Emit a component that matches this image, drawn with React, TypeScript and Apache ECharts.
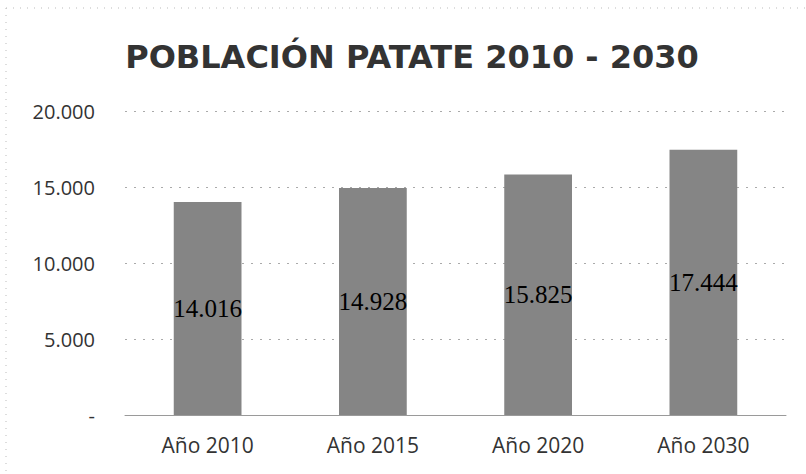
import React, { useEffect, useRef } from "react";
import * as echarts from "echarts";

const categories = ["Año 2010", "Año 2015", "Año 2020", "Año 2030"];
const population = [14016, 14928, 15825, 17444];
const titleText = "POBLACIÓN PATATE 2010 - 2030";

const fmt = (v: number) => (v === 0 ? "-" : String(v).replace(/\B(?=(\d{3})+(?!\d))/g, "."));

export default function App() {
  const ref = useRef<HTMLDivElement>(null);
  useEffect(() => {
    if (!ref.current) return;
    const chart = echarts.init(ref.current, null, { renderer: "svg" });
    chart.setOption({
      animation: false,
      backgroundColor: "#ffffff",
      title: {
        text: titleText,
        left: 407,
        textAlign: "center",
        top: 36,
        textStyle: { fontFamily: "DejaVu Sans", fontWeight: "bold", fontSize: 32, color: "#333333" },
      },
      graphic: [
        { type: "line", shape: { x1: 6, y1: 8, x2: 806, y2: 8 }, style: { stroke: "#bbbbbb", lineWidth: 1, lineDash: [1, 6] } },
        { type: "line", shape: { x1: 6, y1: 8, x2: 6, y2: 474 }, style: { stroke: "#bbbbbb", lineWidth: 1, lineDash: [1, 6] } },
      ],
      grid: { left: 125, right: 20, top: 111, bottom: 59 },
      xAxis: {
        type: "category",
        data: categories,
        axisLine: { show: true, lineStyle: { color: "#9a9a9a", width: 1 } },
        axisTick: { show: false },
        axisLabel: { fontFamily: "Open Sans", fontSize: 21, color: "#333333", margin: 19 },
      },
      yAxis: {
        type: "value",
        min: 0,
        max: 20000,
        interval: 5000,
        axisLine: { show: false },
        axisTick: { show: false },
        splitLine: { lineStyle: { color: "#aaaaaa", type: [2, 7], width: 1 } },
        axisLabel: {
          fontFamily: "Open Sans",
          fontSize: 20,
          color: "#333333",
          margin: 30,
          formatter: (v: number) => fmt(v),
        },
      },
      series: [
        {
          type: "bar",
          data: population,
          barWidth: "41%",
          itemStyle: { color: "#858585" },
          label: {
            show: true,
            position: "inside",
            formatter: (p: any) => fmt(p.value),
            fontFamily: "Liberation Serif",
            fontSize: 25,
            color: "#000000",
          },
        },
      ],
    });
    return () => chart.dispose();
  }, []);
  return <div ref={ref} style={{ position: "fixed", left: 0, top: 0, width: 806, height: 474 }} />;
}
